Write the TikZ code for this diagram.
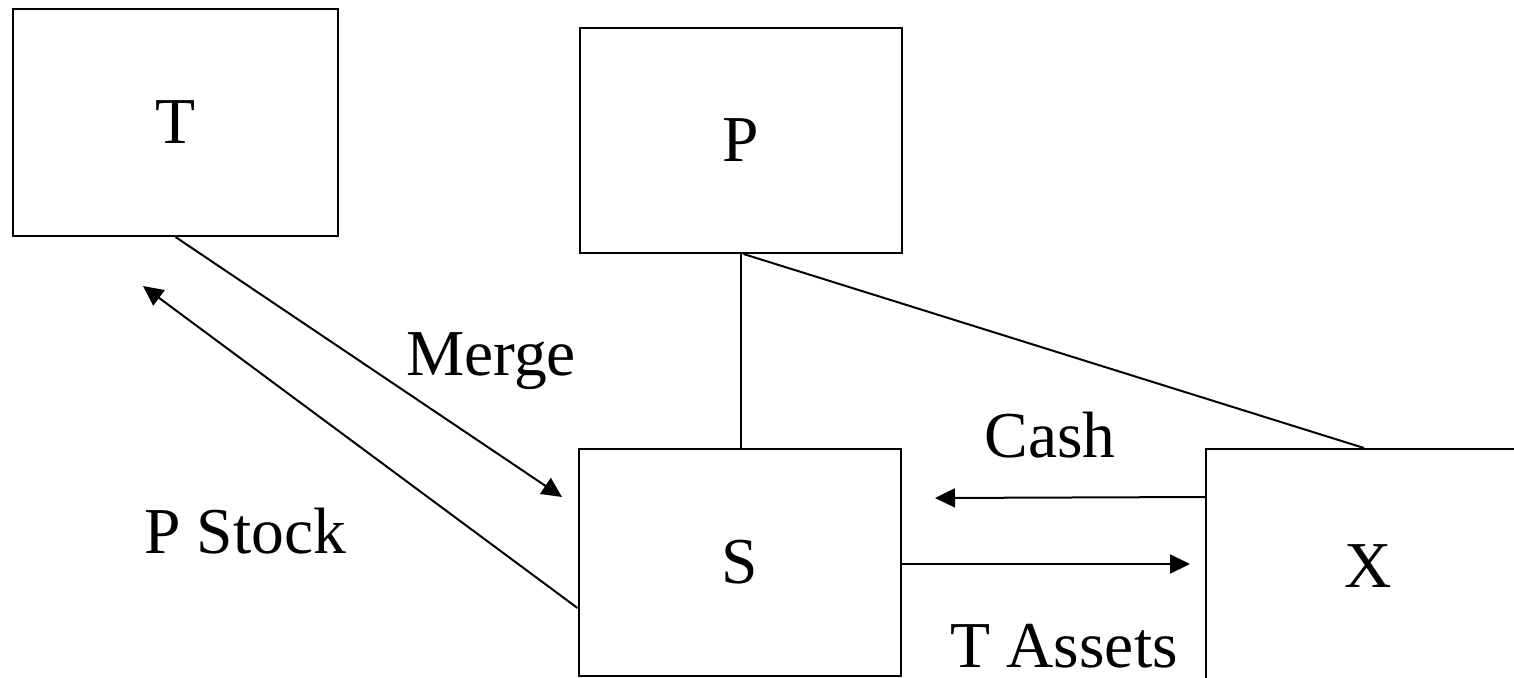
\documentclass[tikz,border=0pt]{standalone}
\usepackage{fontspec}
\setmainfont{Liberation Serif}
\usetikzlibrary{arrows.meta}
\begin{document}
\begin{tikzpicture}[x=1pt,y=-1pt,
  box/.style={draw,line width=2pt,inner sep=0pt,font=\fontsize{65.5}{72}\selectfont},
  conn/.style={line width=2pt},
  arr/.style={conn,-{Triangle[length=20pt,width=19pt]}},
  lbl/.style={inner sep=0pt,font=\fontsize{65.5}{72}\selectfont}]
\useasboundingbox (0,0) rectangle (1514,677);
\clip (0,0) rectangle (1514,677);
\node[box,minimum width=325pt,minimum height=227pt] (T) at (175.5,122.5) {T};
\node[box,minimum width=322pt,minimum height=225pt] (P) at (740.5,140.5) {P};
\node[box,minimum width=322pt,minimum height=227pt] (S) at (739.5,562.5) {S};
\node[box,minimum width=324pt,minimum height=235pt] (X) at (1368,566.5) {X};
\coordinate (mergeEnd) at (562,497);
\coordinate (stockEnd) at (143,286);
\coordinate (cashEnd) at (935,498);
\coordinate (assetEnd) at (1190,564);
\draw[arr] (T.south) -- (mergeEnd);
\draw[arr] ([yshift=-45.5pt]S.west) -- (stockEnd);
\draw[conn] (P.south) -- (P.south |- S.north);
\draw[conn] ([xshift=3pt]P.south) -- ([xshift=159pt]X.north west);
\draw[arr] ([yshift=-49pt]X.north west) -- (cashEnd);
\draw[arr] ([yshift=-1.5pt]S.east) -- (assetEnd);
\node[lbl,anchor=base west] (merge) at (406,375) {Merge};
\node[lbl,anchor=base west] (pstock) at (144,553) {P Stock};
\node[lbl,anchor=base] (cash) at (1050,457) {Cash};
\node[lbl,anchor=base] (tassets) at (1064,667) {T Assets};
\end{tikzpicture}
\end{document}
